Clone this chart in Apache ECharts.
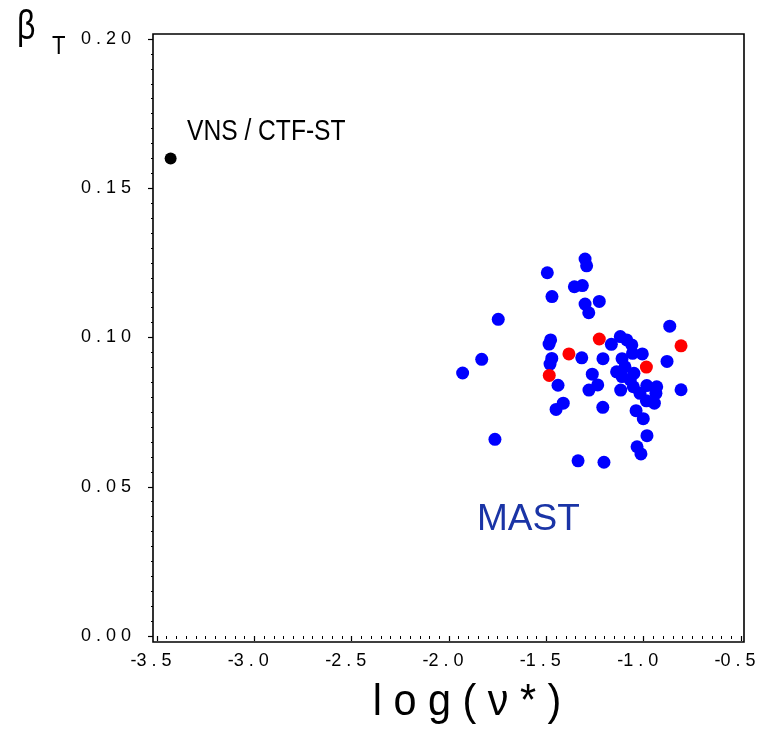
<!DOCTYPE html>
<html>
<head>
<meta charset="utf-8">
<script src="https://cdn.jsdelivr.net/npm/echarts@6/dist/echarts.min.js"></script>
<style>html,body{margin:0;padding:0;background:#fff;overflow:hidden}#c{width:760px;height:730px}</style>
</head>
<body>
<div id="c"></div>
<script>
// ---- data ----
var blueX = [-1.301,-1.293,-1.495,-1.356,-1.315,-1.471,-1.301,-1.228,-1.282,-1.747,-0.866,-1.478,-1.486,-1.120,-1.087,-1.061,-1.166,-1.318,-1.209,-1.007,-1.057,-1.111,-1.472,-1.481,-1.832,-0.880,-1.930,-1.264,-1.139,-1.096,-1.050,-1.111,-1.069,-1.440,-1.236,-1.281,-1.118,-1.053,-0.984,-0.933,-0.808,-1.019,-0.937,-0.986,-0.945,-1.413,-1.450,-1.210,-1.039,-1.002,-1.764,-0.983,-1.034,-1.014,-1.337,-1.204];
var blueY = [0.1263,0.1240,0.1217,0.1170,0.1174,0.1137,0.1112,0.1121,0.1083,0.1061,0.1038,0.0992,0.0978,0.1003,0.0992,0.0975,0.0977,0.0932,0.0929,0.0945,0.0947,0.0929,0.0930,0.0911,0.0927,0.0920,0.0881,0.0877,0.0885,0.0902,0.0880,0.0869,0.0858,0.0840,0.0841,0.0824,0.0824,0.0835,0.0839,0.0835,0.0825,0.0813,0.0813,0.0788,0.0780,0.0780,0.0759,0.0766,0.0755,0.0728,0.0659,0.0671,0.0634,0.0610,0.0587,0.0582];
var redX = [-1.228,-0.808,-1.384,-0.986,-1.485];
var redY = [0.0995,0.0972,0.0945,0.0901,0.0873];
var vnsX = [-3.43];
var vnsY = [0.160];
var vnsLabel = 'VNS / CTF-ST';
var groupLabel = 'MAST';
var xTickLabels = {'-3.5':'-3 . 5','-3':'-3 . 0','-2.5':'-2 . 5','-2':'-2 . 0','-1.5':'-1 . 5','-1':'-1 . 0','-0.5':'-0 . 5'};
var yTickLabels = ['0 . 0 0','0 . 0 5','0 . 1 0','0 . 1 5','0 . 2 0'];
var xTitle = 'l o g ( ν * )';
var yTitleMain = 'β';
var yTitleSub = 'T';

function pairs(xs, ys){ return xs.map(function(x,i){ return [x, ys[i]]; }); }

var SANS = '"Liberation Sans", Arial, sans-serif';

var chart = echarts.init(document.getElementById('c'), null, {renderer:'canvas'});
chart.setOption({
  animation:false,
  backgroundColor:'#ffffff',
  grid:{left:157, right:19, top:39, bottom:94, containLabel:false, outerBoundsMode:'none'},
  xAxis:{
    type:'value', min:-3.5, max:-0.5, interval:0.5, offset:6,
    axisLine:{show:false},
    axisTick:{show:true, length:5, lineStyle:{color:'#000', width:1.2}},
    minorTick:{show:true, splitNumber:10, length:3, lineStyle:{color:'#000', width:1}},
    splitLine:{show:false},
    axisLabel:{color:'#000', fontFamily:SANS, fontSize:18, margin:10, padding:[0,12,0,0],
      formatter:function(v){ var k = String(Math.round(v*10)/10); return xTickLabels[k] || k; }}
  },
  yAxis:{
    type:'value', min:0, max:0.2, interval:0.05, offset:4,
    axisLine:{show:false},
    axisTick:{show:true, length:5, lineStyle:{color:'#000', width:1.2}},
    minorTick:{show:true, splitNumber:10, length:2, lineStyle:{color:'#000', width:1}},
    splitLine:{show:false},
    axisLabel:{color:'#000', fontFamily:SANS, fontSize:18, margin:22,
      formatter:function(v){ return yTickLabels[Math.round(v/0.05)]; }}
  },
  series:[
    {type:'scatter', data:pairs(blueX, blueY), symbol:'circle', symbolSize:13,
      itemStyle:{color:'#0000ff', opacity:1}, z:2},
    {type:'scatter', data:pairs(redX, redY), symbol:'circle', symbolSize:13,
      itemStyle:{color:'#ff0000', opacity:1}, z:3},
    {type:'scatter', data:pairs(vnsX, vnsY), symbol:'circle', symbolSize:12,
      itemStyle:{color:'#000000', opacity:1}, z:3}
  ],
  graphic:[
    {type:'rect', shape:{x:153, y:34, width:591, height:608}, style:{fill:'none', stroke:'#000', lineWidth:1.6}, z:10, silent:true},
    {type:'text', x:187, y:132, scaleX:0.82, style:{text:vnsLabel, fill:'#000', font:'30px '+SANS, textAlign:'left', textVerticalAlign:'middle'}},
    {type:'text', x:477, y:520, style:{text:groupLabel, fill:'#1a34a6', font:'37px '+SANS, textAlign:'left', textVerticalAlign:'middle'}},
    {type:'text', x:467, y:703, scaleX:0.92, style:{text:xTitle, fill:'#000', font:'45px '+SANS, textAlign:'center', textVerticalAlign:'middle'}},
    {type:'text', x:17, y:28, scaleX:0.8, style:{text:yTitleMain, fill:'#000', font:'40px '+SANS, textAlign:'left', textVerticalAlign:'middle'}},
    {type:'text', x:52, y:47, scaleX:0.85, style:{text:yTitleSub, fill:'#000', font:'26px '+SANS, textAlign:'left', textVerticalAlign:'middle'}}
  ]
});
</script>
</body>
</html>
